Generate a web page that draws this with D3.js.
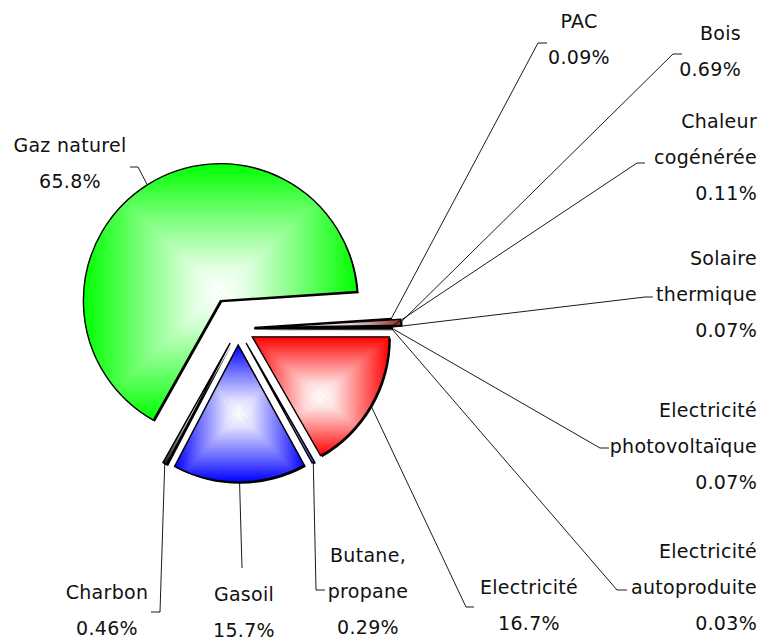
<!DOCTYPE html>
<html>
<head>
<meta charset="utf-8">
<script src="https://cdn.jsdelivr.net/npm/d3@7"></script>
<style>
  body { margin: 0; background: #fff; }
  svg { display: block; }
  text { font-family: "DejaVu Sans", sans-serif; font-size: 19px; letter-spacing: 0.3px; fill: #111; }
</style>
</head>
<body>
<svg id="chart" width="763" height="637"></svg>
<script>
// data, clockwise from 3 o'clock
const categories = ['Electricité', 'Butane, propane', 'Gasoil', 'Charbon', 'Gaz naturel', 'PAC', 'Bois',
  'Chaleur cogénérée', 'Solaire thermique', 'Electricité photovoltaïque', 'Electricité autoproduite'];
const shares = [16.7, 0.29, 15.7, 0.46, 65.8, 0.09, 0.69, 0.11, 0.07, 0.07, 0.03];
const pctLabels = ['16.7%', '0.29%', '15.7%', '0.46%', '65.8%', '0.09%', '0.69%', '0.11%', '0.07%', '0.07%', '0.03%'];
const labelLines = [['Electricité'], ['Butane,', 'propane'], ['Gasoil'], ['Charbon'], ['Gaz naturel'], ['PAC'], ['Bois'],
  ['Chaleur', 'cogénérée'], ['Solaire', 'thermique'], ['Electricité', 'photovoltaïque'], ['Electricité', 'autoproduite']];

const colors = ['#ff0000', '#3333ff', '#0000ff', '#1a1a1a', '#00ff00', '#333333', '#8b2e2e',
  '#333333', '#333333', '#333333', '#333333'];
const explode = [16.5, 16.5, 16.5, 16.5, 33, 16.5, 26, 16.5, 16.5, 16.5, 16.5];

// label placement (baseline of first line, anchor, leader elbow and hook end)
const labelPos = [
  { x: 529, y: 594, anchor: 'middle', elbow: [466, 607], hook: [474, 607] },
  { x: 368, y: 562, anchor: 'middle', elbow: [316, 590], hook: [325, 590] },
  { x: 244, y: 601, anchor: 'middle', elbow: [242, 568], hook: [242, 568] },
  { x: 107, y: 599, anchor: 'middle', elbow: [160, 612], hook: [151, 612] },
  { x: 70, y: 152, anchor: 'middle', elbow: [138, 167], hook: [130, 167] },
  { x: 579, y: 28, anchor: 'middle', elbow: [538, 43], hook: [547, 43] },
  { x: 741, y: 40, anchor: 'end', elbow: [673, 54], hook: [682, 54] },
  { x: 757, y: 128, anchor: 'end', elbow: [637, 163], hook: [645, 163] },
  { x: 757, y: 265, anchor: 'end', elbow: [645, 297], hook: [653, 297] },
  { x: 757, y: 417, anchor: 'end', elbow: [600, 448], hook: [609, 448] },
  { x: 757, y: 558, anchor: 'end', elbow: [617, 590], hook: [627, 590] },
];
const lineH = 35.8;

const svg = d3.select('#chart');
const defs = svg.append('defs');
const cx = 238, cy = 328.6, R = 137;

const pie = d3.pie().sort(null).value((d) => d)
  .startAngle(Math.PI / 2).endAngle(Math.PI / 2 + 2 * Math.PI);
const arcs = pie(shares);
const arc = d3.arc().innerRadius(0).outerRadius(R);

const mid = (a) => (a.startAngle + a.endAngle) / 2;
const offsetOf = (a, i) => [cx + explode[i] * Math.sin(mid(a)), cy - explode[i] * Math.cos(mid(a))];

// shadows first so no slice is covered by another's shadow
svg.append('g').selectAll('path')
  .data(arcs)
  .join('path')
  .attr('transform', (a, i) => {
    const o = offsetOf(a, i);
    return `translate(${o[0] + 1.6},${o[1] + 1.6})`;
  })
  .attr('d', arc)
  .attr('fill', '#000');

// slices with a "from centre" rectangular gradient (4 triangles clipped to the slice)
const slices = svg.append('g');
arcs.forEach((a, i) => {
  const o = offsetOf(a, i);
  const g = slices.append('g').attr('transform', `translate(${o[0]},${o[1]})`);
  const d = arc(a);
  defs.append('clipPath').attr('id', `clip${i}`).append('path').attr('d', d);

  const base = g.append('path').attr('d', d).attr('fill', colors[i]);
  const bb = base.node().getBBox();
  const x0 = bb.x, y0 = bb.y, x1 = bb.x + bb.width, y1 = bb.y + bb.height;
  const mx = (x0 + x1) / 2, my = (y0 + y1) / 2;

  const parts = [
    { pts: [[x0, y0], [x1, y0], [mx, my]], from: [mx, y0] },
    { pts: [[x0, y1], [x1, y1], [mx, my]], from: [mx, y1] },
    { pts: [[x0, y0], [x0, y1], [mx, my]], from: [x0, my] },
    { pts: [[x1, y0], [x1, y1], [mx, my]], from: [x1, my] },
  ];
  const tint = d3.interpolateRgb(colors[i], '#fff');
  const cg = g.append('g').attr('clip-path', `url(#clip${i})`);
  parts.forEach((p, k) => {
    const id = `grad${i}_${k}`;
    const lg = defs.append('linearGradient').attr('id', id)
      .attr('gradientUnits', 'userSpaceOnUse')
      .attr('x1', p.from[0]).attr('y1', p.from[1])
      .attr('x2', mx).attr('y2', my);
    lg.append('stop').attr('offset', 0).attr('stop-color', colors[i]);
    lg.append('stop').attr('offset', 0.4).attr('stop-color', tint(0.45));
    lg.append('stop').attr('offset', 0.8).attr('stop-color', tint(0.88));
    lg.append('stop').attr('offset', 1).attr('stop-color', '#fff');
    cg.append('polygon')
      .attr('points', p.pts.map((q) => q.join(',')).join(' '))
      .attr('fill', `url(#${id})`)
      .attr('stroke', `url(#${id})`)
      .attr('stroke-width', 0.6);
  });

  g.append('path').attr('d', d)
    .attr('fill', 'none')
    .attr('stroke', '#000')
    .attr('stroke-width', 1.4)
    .attr('stroke-linejoin', 'miter');
});

// leader lines
svg.append('g').selectAll('path')
  .data(arcs)
  .join('path')
  .attr('d', (a, i) => {
    const o = offsetOf(a, i);
    const m = mid(a);
    const s = [o[0] + R * Math.sin(m), o[1] - R * Math.cos(m)];
    const p = labelPos[i];
    return d3.line()([s, p.elbow, p.hook]);
  })
  .attr('fill', 'none')
  .attr('stroke', '#000')
  .attr('stroke-width', 0.9);

// labels
const labels = svg.append('g').selectAll('text')
  .data(arcs)
  .join('text')
  .attr('text-anchor', (a, i) => labelPos[i].anchor);

labels.selectAll('tspan')
  .data((a, i) => labelLines[i].concat([pctLabels[i]]).map((t, k) => ({ t, k, i })))
  .join('tspan')
  .attr('x', (d) => labelPos[d.i].x)
  .attr('y', (d) => labelPos[d.i].y + d.k * lineH)
  .text((d) => d.t);
</script>
</body>
</html>
